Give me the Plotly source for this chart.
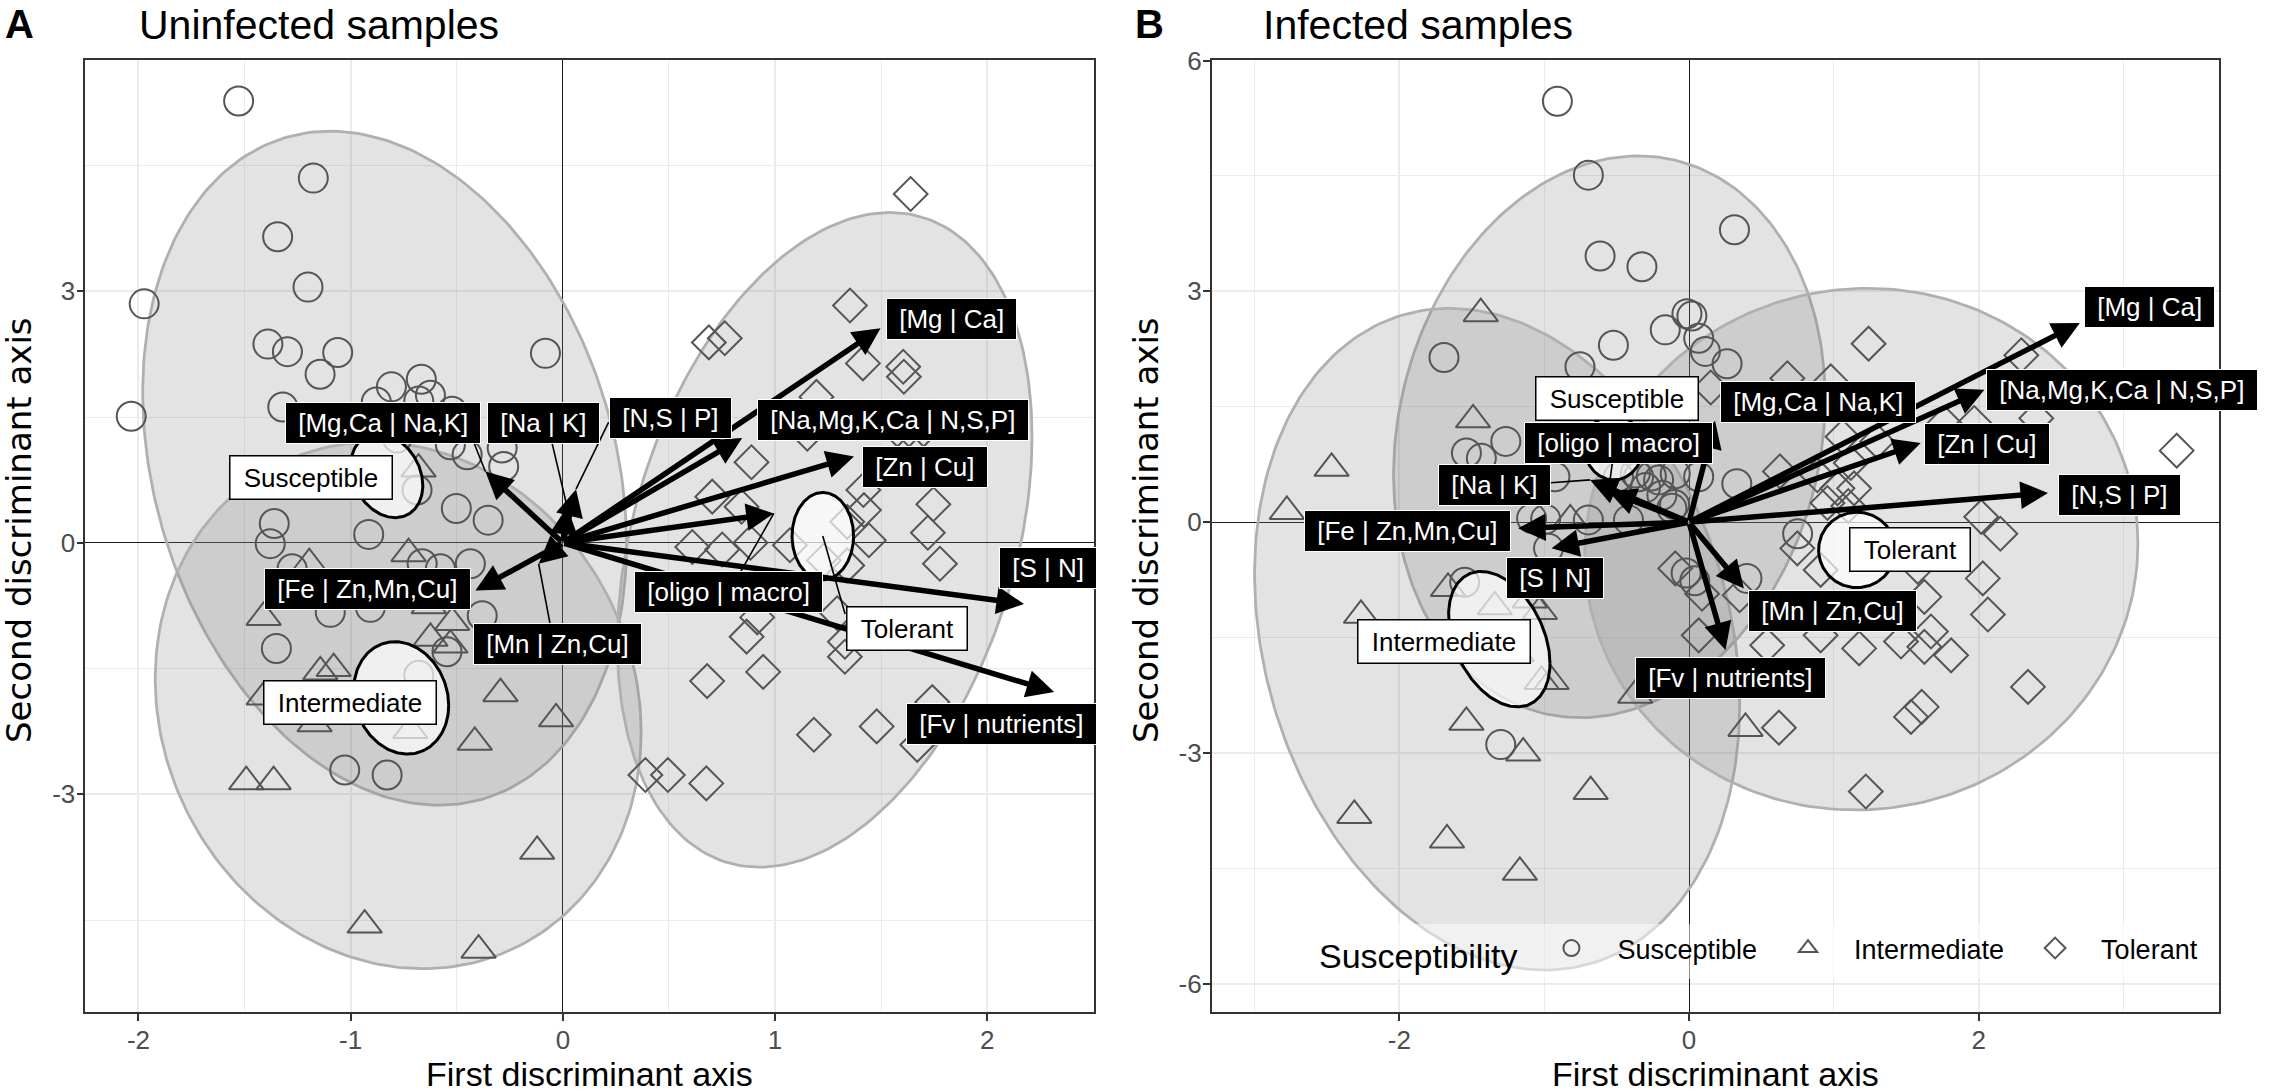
import numpy as np
import plotly.graph_objects as go

FONT = "Liberation Sans, Arial, Helvetica, sans-serif"
FONT_Y = "DejaVu Sans, Verdana, sans-serif"
NB = "\u00a0"

# ---------------- Panel A : Uninfected samples ----------------
a_sus_x = [-1.528, -1.176, -1.344, -1.201, -1.973, -2.034, -1.39, -1.298, -1.061, -1.144, -0.082,
           -0.808, -0.667, -0.624, -0.679, -0.879, -1.32, -0.522, -0.451, -0.286, -0.279, -0.53,
           -0.502, -0.352, -1.36, -0.915, -0.687, -0.781, -1.379, -1.276, -0.663, -0.577, -0.436,
           -0.380, -1.096, -0.907, -1.350, -0.546, -0.679, -1.028, -0.828]
a_sus_y = [5.27, 4.35, 3.65, 3.05, 2.85, 1.51, 2.37, 2.28, 2.27, 2.01, 2.26,
           1.86, 1.95, 1.76, 1.69, 1.68, 1.62, 1.57, 1.05, 1.13, 0.91, 1.17,
           0.41, 0.27, 0.23, 0.10, 0.63, 1.25, -0.01, -0.31, -0.25, -0.31, -0.25,
           -0.87, -0.83, -0.77, -1.26, -1.30, -1.58, -2.71, -2.77]

a_int_x = [-0.727, -1.195, -1.41, -0.632, -0.522, -0.624, -0.53, -1.143, -1.08, -1.41, -1.17,
           -0.719, -0.294, -0.032, -0.415, -1.492, -1.363, -0.121, -0.934, -0.397, -0.68]
a_int_y = [-0.13, -0.25, -0.89, -0.75, -0.95, -1.14, -1.22, -1.54, -1.50, -1.84, -2.16,
           -2.24, -1.80, -2.10, -2.38, -2.85, -2.85, -3.68, -4.56, -4.86, 0.88]

a_tol_x = [1.639, 1.353, 0.688, 0.763, 1.414, 1.604, 1.607, 1.195, 1.152, 1.576, 1.631, 1.70,
           0.889, 0.704, 0.842, 1.416, 1.419, 1.746, 1.72, 1.34, 0.884, 0.61, 0.751, 1.442,
           1.777, 0.916, 0.866, 1.293, 1.329, 1.329, 0.680, 0.944, 1.741, 1.479, 1.183, 1.670,
           0.389, 0.495, 0.676, 1.23, 1.34, 1.07]
a_tol_y = [4.16, 2.83, 2.39, 2.44, 2.14, 2.10, 1.98, 1.74, 1.30, 1.35, 1.35, 1.35,
           0.96, 0.55, 0.43, 0.63, 0.39, 0.46, 0.12, 0.25, 0.0, -0.05, -0.08, 0.03,
           -0.25, -0.89, -1.12, -0.84, -1.18, -1.36, -1.65, -1.54, -1.90, -2.19, -2.29, -2.41,
           -2.77, -2.77, -2.87, -0.21, -0.27, -0.03]

# ellipses: centre, half-width, half-height, covariance term (Susceptible, Intermediate, Tolerant)
a_big_cx = [-0.84, -0.776, 1.234]
a_big_cy = [0.89, -1.94, 0.035]
a_big_wx = [1.14, 1.145, 0.977]
a_big_wy = [4.02, 3.14, 3.905]
a_big_cv = [-1.03, -0.366, 1.2]

a_small_cx = [-0.83, -0.762, 1.225]
a_small_cy = [0.80, -1.85, 0.08]
a_small_wx = [0.17, 0.224, 0.145]
a_small_wy = [0.50, 0.67, 0.52]
a_small_cv = [-0.02, -0.02, 0.0]

a_group_names = ["Susceptible", "Intermediate", "Tolerant"]
a_group_lx = [-1.185, -1.005, 1.62]
a_group_ly = [0.78, -1.90, -1.02]
a_group_seg_x = [None, None, 1.33]
a_group_seg_y = [None, None, -0.85]

a_arrow_names = ["[Mg | Ca]", "[Na,Mg,K,Ca | N,S,P]", "[Zn | Cu]", "[N,S | P]", "[Na | K]",
                 "[Mg,Ca | Na,K]", "[oligo | macro]", "[S | N]", "[Fv | nutrients]",
                 "[Fe | Zn,Mn,Cu]", "[Mn | Zn,Cu]"]
a_arrow_x = [1.497, 0.845, 1.372, 0.062, 0.02, -0.365, 0.994, 2.173, 2.315, -0.412, -0.114]
a_arrow_y = [2.56, 1.25, 1.03, 0.64, 0.43, 0.85, 0.35, -0.73, -1.78, -0.57, -0.25]
a_lab_x = [1.832, 1.556, 1.705, 0.507, -0.09, -0.847, 0.782, 2.284, 2.066, -0.92, -0.024]
a_lab_y = [2.67, 1.47, 0.90, 1.49, 1.43, 1.43, -0.59, -0.30, -2.165, -0.55, -1.21]
a_seg_x = [None, None, None, 0.216, -0.052, -0.42, 0.83, None, None, None, -0.06]
a_seg_y = [None, None, None, 1.44, 1.20, 1.20, -0.38, None, None, None, -0.97]

# ---------------- Panel B : Infected samples ----------------
b_sus_x = [-0.909, -0.695, -0.614, -0.325, 0.314, -1.692, -0.522, -0.164, -0.014, 0.02, 0.067,
           0.113, 0.263, -0.753, -1.265, -1.537, -1.434, -0.926, -0.487, -0.348, -0.21, -0.095,
           0.067, -0.187, -0.118, -1.087, -0.99, -0.695, -0.418, -1.549, -1.30, -0.97, -0.02,
           0.04, 0.40, 0.33, 0.75, -0.1, -0.37, -0.30, -0.26]
b_sus_y = [5.47, 4.51, 3.46, 3.32, 3.80, 2.14, 2.30, 2.50, 2.71, 2.68, 2.39,
           2.22, 2.06, 2.02, 1.05, 0.90, 0.83, 0.59, 0.59, 0.59, 0.55, 0.63,
           0.59, 0.35, 0.18, 0.05, 0.04, 0.03, 0.03, -0.78, -2.89, -0.34, -0.66,
           -0.76, -0.73, 0.50, -0.15, 0.23, 0.64, 0.45, 0.60]

b_int_x = [-1.438, -1.491, -2.468, -2.777, -0.82, -2.265, -1.664, -1.341, -1.099, -1.03, -1.19,
           -1.018, -0.949, -0.372, -1.537, -1.145, -0.679, -2.311, -1.671, -1.168, 0.39]
b_int_y = [2.71, 1.33, 0.70, 0.14, 0.03, -1.21, -0.86, -1.10, -1.01, -1.16, -1.71,
           -2.07, -2.07, -2.25, -2.60, -3.00, -3.50, -3.81, -4.13, -4.55, -2.68]

b_tol_x = [1.240, 2.295, 3.368, 0.679, 0.979, 1.764, 1.97, 2.398, 1.06, 1.30, 0.628, 1.117,
           1.14, 0.956, 0.886, 1.025, 2.018, 2.15, 0.748, 0.909, 2.029, 1.625, 2.064, 0.540,
           0.909, 1.175, 1.464, 1.671, 1.625, 1.81, 2.341, 1.607, 1.533, 0.621, 1.221, 0.35,
           1.58, -0.095, 0.067, 0.09, 1.1, 0.15]
b_tol_y = [2.32, 2.17, 0.93, 1.87, 1.83, 1.29, 1.29, 1.35, 1.11, 1.05, 0.66, 0.77,
           0.44, 0.25, 0.61, 0.44, 0.07, -0.15, -0.34, -0.62, -0.73, -0.97, -1.20, -1.60,
           -1.47, -1.64, -1.55, -1.42, -1.62, -1.73, -2.14, -2.40, -2.53, -2.67, -3.50, -0.95,
           -0.58, -0.60, -1.47, -0.93, 0.21, 1.75]

b_big_cx = [-0.55, -1.325, 1.19]
b_big_cy = [1.11, -1.52, -0.35]
b_big_wx = [1.49, 1.675, 1.91]
b_big_wy = [3.65, 4.3, 3.39]
b_big_cv = [0.73, -1.42, 0.14]

b_small_cx = [-0.52, -1.31, 1.16]
b_small_cy = [0.97, -1.52, -0.36]
b_small_wx = [0.20, 0.35, 0.265]
b_small_wy = [0.42, 0.88, 0.49]
b_small_cv = [0.0, -0.11, 0.0]

b_group_names = ["Susceptible", "Intermediate", "Tolerant"]
b_group_lx = [-0.494, -1.692, 1.526]
b_group_ly = [1.61, -1.55, -0.36]

b_arrow_names = ["[Mg | Ca]", "[Na,Mg,K,Ca | N,S,P]", "[Zn | Cu]", "[N,S | P]", "[Mg,Ca | Na,K]",
                 "[oligo | macro]", "[Na | K]", "[Fe | Zn,Mn,Cu]", "[S | N]", "[Mn | Zn,Cu]",
                 "[Fv | nutrients]"]
b_arrow_x = [2.699, 2.04, 1.60, 2.479, 0.18, -0.556, -0.683, -1.18, -0.949, 0.379, 0.252]
b_arrow_y = [2.59, 1.72, 1.03, 0.38, 1.32, 0.40, 0.55, -0.08, -0.34, -0.86, -1.66]
b_lab_x = [3.179, 2.99, 2.056, 2.97, 0.894, -0.487, -1.346, -1.947, -0.926, 0.99, 0.287]
b_lab_y = [2.80, 1.72, 1.01, 0.356, 1.562, 1.03, 0.49, -0.12, -0.73, -1.16, -2.03]
b_seg_x = [None, None, None, None, None, -0.53, -0.976, None, None, None, None]
b_seg_y = [None, None, None, None, None, 0.76, 0.51, None, None, None, None]

# ---------------- axes ----------------
a_xrange = [-2.25, 2.503]
a_yrange = [-5.597, 5.765]
b_xrange = [-3.296, 3.662]
b_yrange = [-6.365, 6.013]
a_xticks = [-2, -1, 0, 1, 2]
a_yticks = [-3, 0, 3]
b_xticks = [-2, 0, 2]
b_yticks = [-6, -3, 0, 3, 6]
a_xminor = [-1.5, -0.5, 0.5, 1.5]
a_yminor = [-4.5, -1.5, 1.5, 4.5]
b_xminor = [-3, -1, 1, 3]
b_yminor = [-4.5, -1.5, 1.5, 4.5]

W, H = 2270, 1092
MT = 12            # top margin of the plotting area (px)
PH = H - MT


def ellipse(cx, cy, wx, wy, cv, n=240):
    t = np.linspace(0, 2 * np.pi, n)
    l21 = cv / wx
    l22 = np.sqrt(wy ** 2 - l21 ** 2)
    return cx + wx * np.cos(t), cy + l21 * np.cos(t) + l22 * np.sin(t)


fig = go.Figure()
annotations = []

POINT_COL = "#555555"
symbols = {"Susceptible": ("circle-open", 29), "Intermediate": ("triangle-up-open", 30),
           "Tolerant": ("diamond-open", 26)}


def pad(s):
    return NB + s + NB


def add_panel(xa, ya, pts, big, small, gnames, glx, gly, gsegx, gsegy,
              anames, ax_, ay_, lx, ly, sx, sy, legend):
    for i in range(3):
        ex, ey = ellipse(big[0][i], big[1][i], big[2][i], big[3][i], big[4][i])
        fig.add_trace(go.Scatter(x=ex, y=ey, mode="lines", fill="toself",
                                 fillcolor="rgba(128,128,128,0.22)",
                                 line=dict(color="#B0B0B0", width=2.8),
                                 hoverinfo="skip", showlegend=False, xaxis=xa, yaxis=ya))
    for name, (px_, py_) in zip(["Susceptible", "Intermediate", "Tolerant"], pts):
        sym, sz = symbols[name]
        fig.add_trace(go.Scatter(x=px_, y=py_, mode="markers", name=name,
                                 marker=dict(symbol=sym, size=sz, color=POINT_COL,
                                             line=dict(width=2, color=POINT_COL)),
                                 showlegend=legend, legendgroup=name, xaxis=xa, yaxis=ya))
    for i in range(3):
        ex, ey = ellipse(small[0][i], small[1][i], small[2][i], small[3][i], small[4][i])
        fig.add_trace(go.Scatter(x=ex, y=ey, mode="lines", fill="toself",
                                 fillcolor="rgba(255,255,255,0.7)",
                                 line=dict(color="black", width=3),
                                 hoverinfo="skip", showlegend=False, xaxis=xa, yaxis=ya))
    for i in range(len(anames)):
        if sx[i] is not None:
            fig.add_trace(go.Scatter(x=[ax_[i], sx[i]], y=[ay_[i], sy[i]], mode="lines",
                                     line=dict(color="black", width=1.6), hoverinfo="skip",
                                     showlegend=False, xaxis=xa, yaxis=ya))
    for i in range(3):
        if gsegx[i] is not None:
            fig.add_trace(go.Scatter(x=[small[0][i], gsegx[i]], y=[small[1][i], gsegy[i]],
                                     mode="lines", line=dict(color="black", width=1.6),
                                     hoverinfo="skip", showlegend=False, xaxis=xa, yaxis=ya))
    xr = "x" if xa == "x" else "x2"
    yr = "y" if ya == "y" else "y2"
    for i in range(len(anames)):
        annotations.append(dict(x=ax_[i], y=ay_[i], ax=0, ay=0, xref=xr, yref=yr,
                                axref=xr, ayref=yr, text="", showarrow=True,
                                arrowhead=2, arrowsize=1.0, arrowwidth=5.5, arrowcolor="black",
                                standoff=0))
    for i in range(len(anames)):
        annotations.append(dict(x=lx[i], y=ly[i], xref=xr, yref=yr, text=pad(anames[i]),
                                showarrow=False, bgcolor="black", bordercolor="white",
                                borderwidth=1, borderpad=5,
                                font=dict(family=FONT, size=26, color="white")))
    for i in range(3):
        annotations.append(dict(x=glx[i], y=gly[i], xref=xr, yref=yr, text=pad(gnames[i]),
                                showarrow=False, bgcolor="white", bordercolor="black",
                                borderwidth=1.5, borderpad=6,
                                font=dict(family=FONT, size=26, color="black")))


add_panel("x", "y",
          [(a_sus_x, a_sus_y), (a_int_x, a_int_y), (a_tol_x, a_tol_y)],
          (a_big_cx, a_big_cy, a_big_wx, a_big_wy, a_big_cv),
          (a_small_cx, a_small_cy, a_small_wx, a_small_wy, a_small_cv),
          a_group_names, a_group_lx, a_group_ly, a_group_seg_x, a_group_seg_y,
          a_arrow_names, a_arrow_x, a_arrow_y, a_lab_x, a_lab_y, a_seg_x, a_seg_y, False)

add_panel("x2", "y2",
          [(b_sus_x, b_sus_y), (b_int_x, b_int_y), (b_tol_x, b_tol_y)],
          (b_big_cx, b_big_cy, b_big_wx, b_big_wy, b_big_cv),
          (b_small_cx, b_small_cy, b_small_wx, b_small_wy, b_small_cv),
          b_group_names, b_group_lx, b_group_ly, [None, None, None], [None, None, None],
          b_arrow_names, b_arrow_x, b_arrow_y, b_lab_x, b_lab_y, b_seg_x, b_seg_y, True)


def px(X):
    return X / W


def py(Y):
    return 1 - (Y - MT) / PH


TOP = py(0.5)
annotations += [
    dict(x=px(3), y=TOP, xref="paper", yref="paper", text="<b>A</b>", showarrow=False,
         xanchor="left", yanchor="top", font=dict(family=FONT, size=40, color="black")),
    dict(x=px(137), y=TOP, xref="paper", yref="paper", text="Uninfected samples",
         showarrow=False, xanchor="left", yanchor="top",
         font=dict(family=FONT, size=41, color="black")),
    dict(x=px(1133), y=TOP, xref="paper", yref="paper", text="<b>B</b>", showarrow=False,
         xanchor="left", yanchor="top", font=dict(family=FONT, size=40, color="black")),
    dict(x=px(1261), y=TOP, xref="paper", yref="paper", text="Infected samples",
         showarrow=False, xanchor="left", yanchor="top",
         font=dict(family=FONT, size=41, color="black")),
    dict(x=px(589.7), y=py(1074), xref="paper", yref="paper", text="First discriminant axis",
         showarrow=False, xanchor="center", yanchor="middle",
         font=dict(family=FONT, size=34, color="black")),
    dict(x=px(1715), y=py(1074), xref="paper", yref="paper", text="First discriminant axis",
         showarrow=False, xanchor="center", yanchor="middle",
         font=dict(family=FONT, size=34, color="black")),
    dict(x=px(19), y=py(530), xref="paper", yref="paper", text="Second discriminant axis",
         showarrow=False, xanchor="center", yanchor="middle", textangle=-90,
         font=dict(family=FONT_Y, size=34, color="black")),
    dict(x=px(1146), y=py(530), xref="paper", yref="paper", text="Second discriminant axis",
         showarrow=False, xanchor="center", yanchor="middle", textangle=-90,
         font=dict(family=FONT_Y, size=34, color="black")),
]


def axis_style(rng, ticks, minor, domain, anchor, standoff):
    return dict(range=rng, domain=domain, anchor=anchor, tickmode="array", tickvals=ticks,
                ticktext=[str(t) for t in ticks],
                showgrid=True, gridcolor="#EBEBEB", gridwidth=2.2,
                minor=dict(tickmode="array", tickvals=minor, showgrid=True,
                           gridcolor="#EBEBEB", gridwidth=1.2, ticks=""),
                zeroline=True, zerolinecolor="#1A1A1A", zerolinewidth=1.4,
                showline=True, mirror=True, linecolor="#333333", linewidth=1.8,
                ticks="outside", ticklen=7, tickwidth=2, tickcolor="#333333",
                ticklabelstandoff=standoff,
                tickfont=dict(family=FONT, size=26, color="#4D4D4D"),
                automargin=False, fixedrange=True)


ydom = [py(1012), py(59.5)]
fig.update_layout(
    width=W, height=H, autosize=False,
    margin=dict(l=0, r=0, t=MT, b=0, pad=0),
    paper_bgcolor="white", plot_bgcolor="white",
    font=dict(family=FONT, color="black"),
    xaxis=axis_style(a_xrange, a_xticks, a_xminor, [85.4 / W, 1094 / W], "y", -3),
    yaxis=axis_style(a_yrange, a_yticks, a_yminor, ydom, "x", -4),
    xaxis2=axis_style(b_xrange, b_xticks, b_xminor, [1211.7 / W, 2219.3 / W], "y2", -3),
    yaxis2=axis_style(b_yrange, b_yticks, b_yminor, ydom, "x2", -4),
    annotations=annotations,
    showlegend=True,
    legend=dict(orientation="h", x=px(1317), xanchor="left", y=py(924), yanchor="top",
                bgcolor="rgba(255,255,255,0.5)",
                title=dict(text="Susceptibility", side="left",
                           font=dict(family=FONT, size=34, color="black")),
                font=dict(family=FONT, size=27, color="black"),
                itemwidth=82),
)

fig.write_html("out.html", config={"displayModeBar": False},
               post_script="document.body.style.margin='0px';document.body.style.overflow='hidden';")
